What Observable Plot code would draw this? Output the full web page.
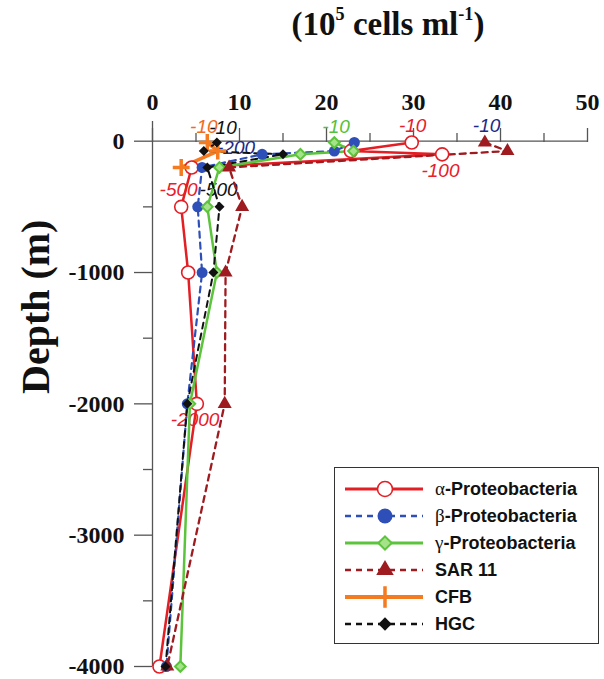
<!DOCTYPE html>
<html><head><meta charset="utf-8">
<script src="https://cdn.jsdelivr.net/npm/d3@7"></script>
<script src="https://cdn.jsdelivr.net/npm/@observablehq/plot@0.6"></script>
<style>
body{margin:0;background:#fff;}
#wrap{position:relative;width:604px;height:679px;overflow:hidden;background:#fff;}
#title{position:absolute;left:388px;top:6px;transform:translateX(-50%);font:bold 33px "Liberation Serif",serif;white-space:nowrap;color:#111;}
#title sup{font-size:0.55em;vertical-align:0.8em;line-height:0;}
#legend{position:absolute;left:334px;top:467px;width:265px;height:177px;border:1.5px solid #333;box-sizing:border-box;background:#fff;}
.row{position:absolute;left:0;height:26px;display:flex;align-items:center;}
.row svg{display:block;}
.row .t{font:bold 18px "Liberation Sans",Arial,sans-serif;color:#111;margin-left:10px;white-space:nowrap;}
.row .g{font:normal 19px "Liberation Serif",serif;}
</style>
</head><body>
<div id="wrap"><div id="title">(10<sup>5</sup> cells ml<sup>-1</sup>)</div><div id="legend"></div></div>
<script>
// ---- data ----
const seriesNames = ["α-Proteobacteria", "β-Proteobacteria", "γ-Proteobacteria", "SAR 11", "CFB", "HGC"];

const alphaDepth = [-10, -75, -100, -200, -500, -1000, -2000, -4000];
const alphaValue = [29.8, 22.8, 33.3, 4.5, 3.3, 4.1, 5.1, 0.8];

const betaDepth = [-10, -75, -100, -200, -500, -1000, -2000, -4000];
const betaValue = [23.2, 20.9, 12.6, 5.7, 5.2, 5.7, 4.0, 1.6];

const gammaDepth = [-10, -75, -100, -200, -500, -1000, -2000, -4000];
const gammaValue = [20.9, 23.1, 17.0, 7.7, 6.3, 7.4, 4.3, 3.2];

const sar11Depth = [-10, -75, -200, -500, -1000, -2000, -4000];
const sar11Value = [38.2, 40.8, 8.8, 10.3, 8.4, 8.3, 1.7];

const cfbDepth = [-10, -75, -200];
const cfbValue = [6.3, 7.5, 3.3];

const hgcDepth = [-10, -75, -100, -200, -500, -1000, -2000, -4000];
const hgcValue = [7.4, 5.9, 15.0, 6.3, 7.7, 7.0, 4.0, 1.5];

const xTickLabels = [0, 10, 20, 30, 40, 50];
const xMinorTicks = [5, 15, 25, 35, 45];
const yTickLabels = [0, -1000, -2000, -3000, -4000];
const yMinorTicks = [-500, -1500, -2500, -3500];
const yLabel = "Depth (m)";

// depth annotations (text, value, depth, series colour key)
const annText  = ["-10", "-10", "-10", "-10", "-10", "-100", "-200", "-500", "-500", "-2000"];
const annValue = [5.9, 8.1, 21.1, 29.9, 38.4, 33.1, 9.6, 3.0, 7.6, 4.9];
const annDepth = [112, 105, 112, 115, 115, -228, -53, -373, -373, -2125];
const annKey   = ["orange", "black", "green", "red", "navy", "red", "navy", "red", "black", "red"];

// ---- styles ----
const annColors = {orange: "#f26a21", black: "#111", green: "#55c13a", red: "#e8202a", navy: "#1d2a86"};
const styles = {
  "α-Proteobacteria": {stroke: "#e31e24", width: 2.5, dash: null, symbol: "circle", r: 6.5, fill: "#fff", mstroke: "#e31e24", mwidth: 1.6, lr: 7.5},
  "β-Proteobacteria": {stroke: "#2f4fb8", width: 2.2, dash: "6,5", symbol: "circle", r: 5.5, fill: "#2f4fb8", mstroke: "none", mwidth: 0, lr: 7.5},
  "γ-Proteobacteria": {stroke: "#5cc43c", width: 2.5, dash: null, symbol: "diamond2", r: 4.8, fill: "#a6e28a", mstroke: "#5cc43c", mwidth: 2, lr: 6},
  "SAR 11":           {stroke: "#9e1b20", width: 2.3, dash: "6,5", symbol: "triangle", r: 5.2, fill: "#9e1b20", mstroke: "none", mwidth: 0, lr: 6.5},
  "CFB":              {stroke: "#f47b20", width: 3.5, dash: null, symbol: "plus", r: 5.5, fill: "none", mstroke: "#f47b20", mwidth: 3.5, lr: 7},
  "HGC":              {stroke: "#111", width: 2.0, dash: "6,5", symbol: "diamond2", r: 4.5, fill: "#111", mstroke: "none", mwidth: 0, lr: 6}
};

const depths = [alphaDepth, betaDepth, gammaDepth, sar11Depth, cfbDepth, hgcDepth];
const values = [alphaValue, betaValue, gammaValue, sar11Value, cfbValue, hgcValue];
const rows = seriesNames.flatMap((name, i) => depths[i].map((d, j) => ({series: name, depth: d, value: values[i][j]})));
const ann = annText.map((t, i) => ({text: t, value: annValue[i], depth: annDepth[i], color: annColors[annKey[i]]}));

const serif = "Liberation Serif, Times New Roman, serif";
const marks = [
  Plot.ruleX([0], {stroke: "#555", strokeWidth: 1.3}),
  Plot.ruleY([0], {stroke: "#555", strokeWidth: 1.3}),
  Plot.axisX(xTickLabels, {anchor: "top", tickSize: 0, tickPadding: 12, fontSize: 24, fontWeight: "bold", fontFamily: serif, fill: "#111", label: null}),
  Plot.axisX(xTickLabels, {anchor: "top", tickSize: 14, dy: 20, fill: "none", stroke: "#555", strokeWidth: 1.3, label: null}),
  Plot.axisX(xMinorTicks, {anchor: "top", tickSize: 9, dy: 20, fill: "none", stroke: "#555", strokeWidth: 1.3, label: null}),
  Plot.axisY(yTickLabels, {anchor: "left", tickSize: 18, tickPadding: 10, tickFormat: d => String(d), fontSize: 24, fontWeight: "bold", fontFamily: serif, fill: "#111", stroke: "#555", strokeWidth: 1.3, label: null}),
  Plot.axisY(yMinorTicks, {anchor: "left", tickSize: 9, fill: "none", stroke: "#555", strokeWidth: 1.3, label: null}),
  Plot.text([yLabel], {text: d => d, frameAnchor: "left", rotate: -90, dx: -116, fontSize: 40, fontWeight: "bold", fontFamily: serif, fill: "#111"}),
  Plot.text(ann, {x: "value", y: "depth", text: "text", fill: "color", fontSize: 19, fontStyle: "italic", fontFamily: "Liberation Sans, Arial, sans-serif"})
];
for (const name of seriesNames) {
  const s = styles[name];
  const data = rows.filter(r => r.series === name);
  marks.push(Plot.line(data, {x: "value", y: "depth", stroke: s.stroke, strokeWidth: s.width, strokeDasharray: s.dash, curve: "linear"}));
}
for (const name of seriesNames) {
  const s = styles[name];
  const data = rows.filter(r => r.series === name);
  marks.push(Plot.dot(data, {x: "value", y: "depth", symbol: s.symbol, r: s.r, fill: s.fill, stroke: s.mstroke, strokeWidth: s.mwidth}));
}

const chart = Plot.plot({
  width: 604, height: 679,
  marginLeft: 152, marginRight: 17, marginTop: 121, marginBottom: 13,
  x: {domain: [0, 50]},
  y: {domain: [-4000, 150]},
  style: {background: "transparent", overflow: "visible"},
  marks
});
chart.style.position = "absolute";
chart.style.left = "0";
chart.style.top = "0";
const wrap = document.getElementById("wrap");
wrap.insertBefore(chart, wrap.firstChild);

// ---- legend ----
const symbolMap = {circle: d3.symbolCircle, diamond2: d3.symbolDiamond2, triangle: d3.symbolTriangle, plus: d3.symbolPlus};
const legend = document.getElementById("legend");
seriesNames.forEach((name, i) => {
  const s = styles[name];
  const row = document.createElement("div");
  row.className = "row";
  row.style.top = (8 + i * 27) + "px";
  const svg = d3.create("svg").attr("width", 90).attr("height", 26);
  svg.append("line").attr("x1", 10).attr("x2", 88).attr("y1", 13).attr("y2", 13)
    .attr("stroke", s.stroke).attr("stroke-width", s.width + 0.3).attr("stroke-dasharray", s.dash);
  const rr = s.lr;
  svg.append("path").attr("transform", "translate(50,13)")
    .attr("d", d3.symbol(symbolMap[s.symbol], Math.PI * rr * rr)())
    .attr("fill", s.fill).attr("stroke", s.mstroke).attr("stroke-width", s.mwidth);
  row.appendChild(svg.node());
  const t = document.createElement("span");
  t.className = "t";
  const first = name[0];
  if (/[α-ω]/.test(first)) {
    const g = document.createElement("span");
    g.className = "g";
    g.textContent = first;
    t.appendChild(g);
    t.appendChild(document.createTextNode(name.slice(1)));
  } else {
    t.textContent = name;
  }
  row.appendChild(t);
  legend.appendChild(row);
});
</script>
</body></html>
